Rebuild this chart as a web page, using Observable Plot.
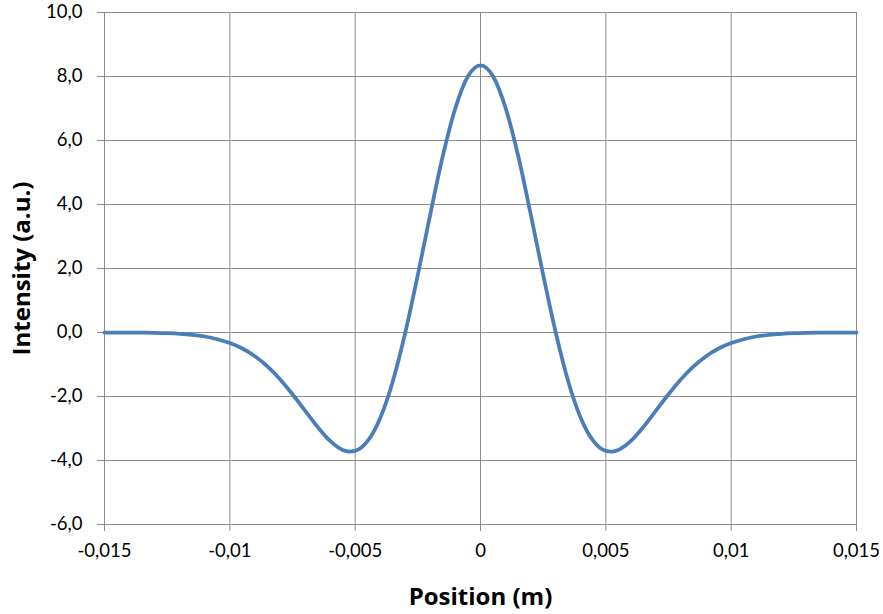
<!DOCTYPE html>
<html>
<head>
<meta charset="utf-8">
<script src="https://cdn.jsdelivr.net/npm/d3@7"></script>
<script src="https://cdn.jsdelivr.net/npm/@observablehq/plot@0.6"></script>
<style>
  html, body { margin: 0; padding: 0; background: #fff; }
  #chart svg { display: block; }
  g[aria-label="x-axis label"] text, g[aria-label="y-axis label"] text {
    font-family: "Open Sans", sans-serif; font-weight: bold; font-size: 24px; fill: #000;
  }
  g[aria-label="x-axis tick label"] text, g[aria-label="y-axis tick label"] text { fill: #000; }
</style>
</head>
<body>
<div id="chart"></div>
<script>
const positions = [
  -0.015, -0.0145, -0.014, -0.0135, -0.013, -0.0125, -0.012, -0.0115, -0.011, -0.0105,
  -0.01, -0.0095, -0.009, -0.0085, -0.008, -0.0075, -0.007, -0.0065, -0.006, -0.0055, -0.00525,
  -0.005, -0.0045, -0.004, -0.0035, -0.003, -0.0025, -0.002, -0.0015, -0.001, -0.0005,
  0,
  0.0005, 0.001, 0.0015, 0.002, 0.0025, 0.003, 0.0035, 0.004, 0.0045, 0.005, 0.00525,
  0.0055, 0.006, 0.0065, 0.007, 0.0075, 0.008, 0.0085, 0.009, 0.0095, 0.01,
  0.0105, 0.011, 0.0115, 0.012, 0.0125, 0.013, 0.0135, 0.014, 0.0145, 0.015
];
const intensity = [
  0.000, -0.001, -0.003, -0.006, -0.012, -0.023, -0.042, -0.074, -0.125, -0.21,
  -0.33, -0.50, -0.74, -1.06, -1.46, -1.93, -2.44, -2.95, -3.39, -3.67, -3.72,
  -3.70, -3.39, -2.67, -1.53, 0.00, 1.80, 3.71, 5.53, 7.02, 8.01,
  8.35,
  8.01, 7.02, 5.53, 3.71, 1.80, 0.00, -1.53, -2.67, -3.39, -3.70, -3.72,
  -3.67, -3.39, -2.95, -2.44, -1.93, -1.46, -1.06, -0.74, -0.50, -0.33,
  -0.21, -0.125, -0.074, -0.042, -0.023, -0.012, -0.006, -0.003, -0.001, 0.000
];
const xTicks = [-0.015, -0.01, -0.005, 0, 0.005, 0.01, 0.015];
const xTickLabels = ["-0,015", "-0,01", "-0,005", "0", "0,005", "0,01", "0,015"];
const yTicks = [-6, -4, -2, 0, 2, 4, 6, 8, 10];
const yTickLabels = ["-6,0", "-4,0", "-2,0", "0,0", "2,0", "4,0", "6,0", "8,0", "10,0"];

const data = positions.map((p, i) => ({x: p, y: intensity[i]}));
const gridColor = "#8c8c8c";

const chart = Plot.plot({
  width: 883,
  height: 614,
  marginLeft: 104,
  marginRight: 27,
  marginTop: 12,
  marginBottom: 90,
  style: {fontFamily: "Lato, 'Open Sans', sans-serif", fontSize: "18.5px", color: "#000", background: "#fff"},
  x: {domain: [-0.015, 0.015], ticks: xTicks, label: "Position (m)"},
  y: {domain: [-6, 10], ticks: yTicks, label: "Intensity (a.u.)"},
  marks: [
    Plot.gridX(xTicks, {stroke: gridColor, strokeOpacity: 1, strokeWidth: 1}),
    Plot.gridY(yTicks, {stroke: gridColor, strokeOpacity: 1, strokeWidth: 1}),
    Plot.axisX(xTicks, {
      tickSize: 7, tickPadding: 12, stroke: gridColor,
      tickFormat: d => xTickLabels[xTicks.indexOf(d)],
      label: "Position (m)", labelAnchor: "center", labelArrow: "none", labelOffset: 80
    }),
    Plot.axisY(yTicks, {
      tickSize: 7, tickPadding: 15, stroke: gridColor,
      tickFormat: d => yTickLabels[yTicks.indexOf(d)],
      label: "Intensity (a.u.)", labelAnchor: "center", labelArrow: "none", labelOffset: 92
    }),
    Plot.ruleY([-6], {stroke: gridColor}),
    Plot.ruleX([-0.015], {stroke: gridColor}),
    Plot.line(data, {x: "x", y: "y", stroke: "#4a7ebb", strokeWidth: 3.75, curve: "monotone-x"})
  ]
});
document.getElementById("chart").appendChild(chart);
</script>
</body>
</html>
